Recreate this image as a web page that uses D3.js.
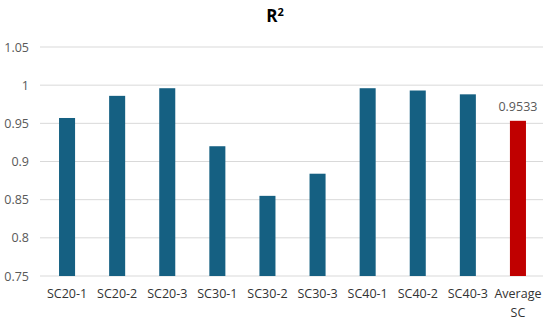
<!DOCTYPE html>
<html>
<head>
<meta charset="utf-8">
<script src="https://cdn.jsdelivr.net/npm/d3@7"></script>
<style>
  body { margin: 0; background: #fff; }
  text { font-family: "Open Sans", "Noto Sans", sans-serif; }
</style>
</head>
<body>
<svg class="chart" width="550" height="320"></svg>
<script>
const categories = ['SC20-1', 'SC20-2', 'SC20-3', 'SC30-1', 'SC30-2', 'SC30-3', 'SC40-1', 'SC40-2', 'SC40-3', 'Average SC'];
const values = [0.957, 0.986, 0.996, 0.920, 0.855, 0.884, 0.996, 0.993, 0.988, 0.9533];
const yTicks = [0.75, 0.8, 0.85, 0.9, 0.95, 1, 1.05];

const width = 550, height = 320;
const margin = {l: 42, r: 7, t: 47, b: 44};
const mainColor = '#156082';
const avgColor = '#c00000';

const svg = d3.select('.chart');

const scaleX = d3.scaleBand()
  .domain(categories)
  .range([margin.l, width - margin.r])
  .paddingInner(0.68)
  .paddingOuter(0.34);
const scaleY = d3.scaleLinear()
  .domain([0.75, 1.05])
  .range([height - margin.b, margin.t]);

// gridlines
svg.append('g')
  .selectAll('line')
  .data(yTicks)
  .enter()
  .append('line')
  .attr('x1', 40)
  .attr('x2', width - margin.r)
  .attr('y1', d => scaleY(d))
  .attr('y2', d => scaleY(d))
  .attr('stroke', '#d9d9d9')
  .attr('stroke-width', 1);

// y axis labels
const yAxis = svg.append('g')
  .attr('transform', `translate(${margin.l - 4}, 0)`)
  .call(d3.axisLeft(scaleY).tickValues(yTicks).tickSize(0).tickPadding(9).tickFormat(d => String(+d.toFixed(2))));
yAxis.select('.domain').remove();
yAxis.selectAll('text')
  .attr('fill', '#595959')
  .style('font-size', '12.5px');

// bars
svg.append('g')
  .selectAll('rect')
  .data(values)
  .enter()
  .append('rect')
  .attr('x', (d, i) => scaleX(categories[i]))
  .attr('width', scaleX.bandwidth())
  .attr('y', d => scaleY(d))
  .attr('height', d => scaleY(0.75) - scaleY(d))
  .attr('fill', (d, i) => i === categories.length - 1 ? avgColor : mainColor);

// x labels (wrap "Average SC")
const xAxis = svg.append('g')
  .attr('transform', `translate(0, ${scaleY(0.75)})`)
  .call(d3.axisBottom(scaleX).tickSize(0).tickPadding(0));
xAxis.select('.domain').remove();
xAxis.selectAll('text').each(function(d) {
  const t = d3.select(this).text('')
    .attr('y', 0).attr('dy', null)
    .attr('fill', '#333').style('font-size', '12.5px');
  const words = d.indexOf('Average') === 0 ? d.split(' ') : [d];
  words.forEach((w, k) => {
    t.append('tspan')
      .attr('x', 0)
      .attr('y', 22 + k * 19)
      .text(w);
  });
});

// data label on average bar
const last = categories.length - 1;
svg.append('text')
  .attr('x', scaleX(categories[last]) + scaleX.bandwidth() / 2)
  .attr('y', scaleY(values[last]) - 10)
  .attr('text-anchor', 'middle')
  .attr('fill', '#595959')
  .style('font-size', '12.5px')
  .text('0.9533');

// title
const title = svg.append('text')
  .attr('x', width / 2)
  .attr('y', 22)
  .attr('text-anchor', 'middle')
  .attr('fill', '#000')
  .style('font-size', '17px')
  .style('font-weight', 'bold');
title.append('tspan').text('R');
title.append('tspan').attr('dy', -6).style('font-size', '11px').text('2');
</script>
</body>
</html>
